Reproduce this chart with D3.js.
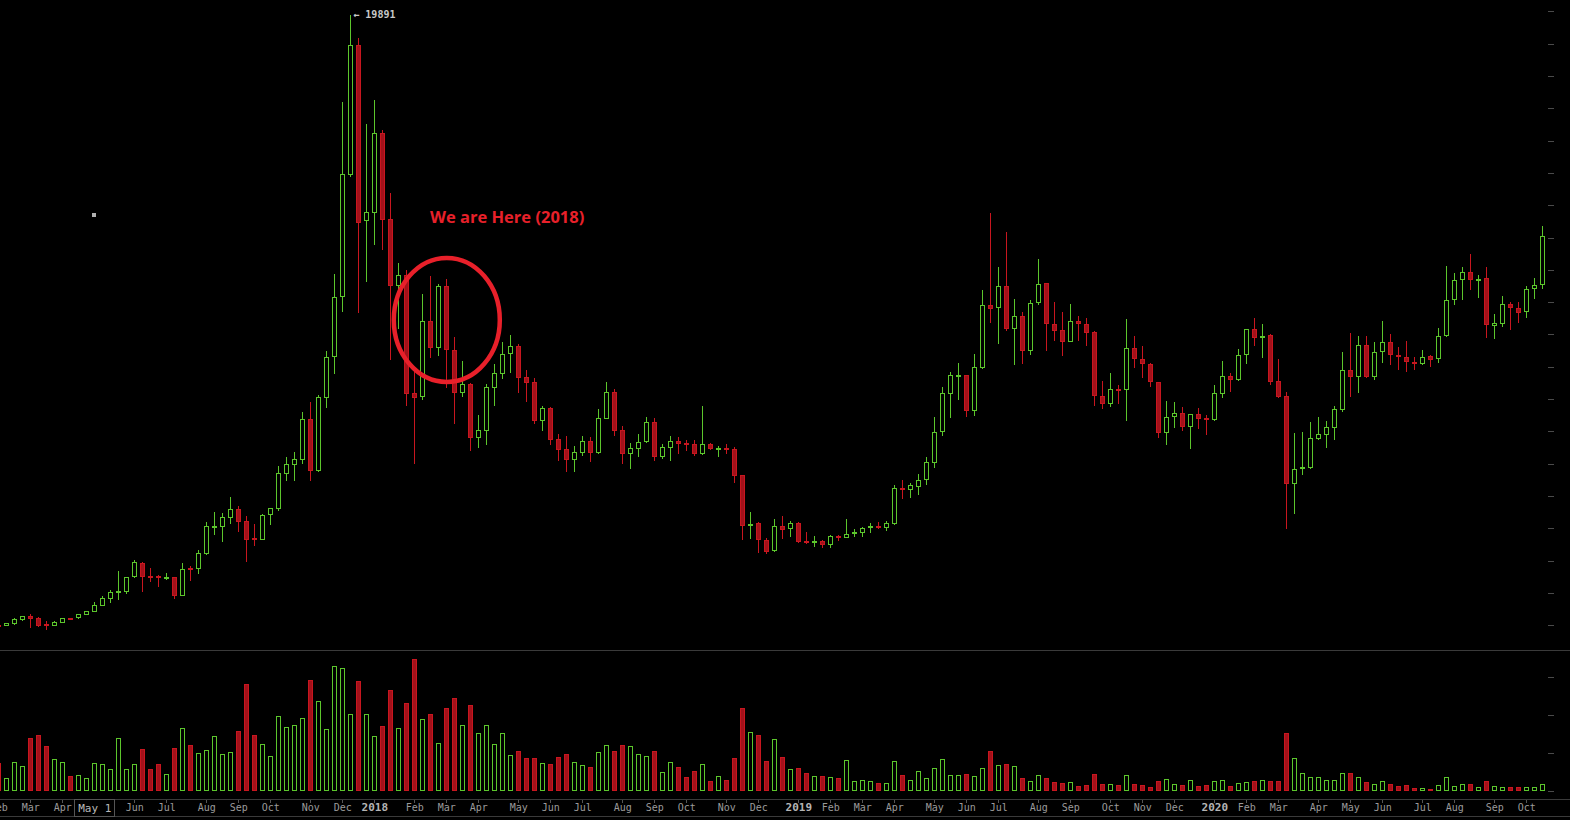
<!DOCTYPE html>
<html>
<head>
<meta charset="utf-8">
<script src="https://cdn.jsdelivr.net/npm/d3@7"></script>
<style>
  html, body { margin: 0; padding: 0; background: #000; }
  svg { display: block; }
</style>
</head>
<body>
<svg id="chart" width="1570" height="820"></svg>
<script>
// ---- Weekly candles, BTC, week of 6 Feb 2017 to week of 19 Oct 2020 ----
const firstWeek = Date.UTC(2017, 1, 6);
const lastWeekEnd = Date.UTC(2020, 9, 20);

const open = [
1015,1009,1080,1204,1288,1226,1040,1000,1111,1220,1248,1359,1452,1637,1854,2040,2071,2516,2918,2520,
2535,2490,2485,1947,2770,2764,3246,4060,4082,4360,4589,4218,3690,3679,4434,4639,5722,5999,6155,7374,
5814,8073,9323,11179,14954,18945,13531,13778,16222,13561,11538,11829,8178,8085,10406,9601,11498,9518,8228,8466,
6835,7043,8382,8815,9416,9651,8673,8518,7361,7714,6755,6445,6155,6371,6693,6362,7423,8209,7033,6340,
6495,6712,7281,6248,6526,6690,6640,6609,6340,6609,6480,6490,6445,5641,4120,4156,3630,3320,4063,4001,
4156,3610,3590,3599,3525,3770,3741,3860,3896,4050,4075,4051,4175,5240,5208,5319,5517,6062,7002,8197,
8720,8735,7652,9001,10901,10839,11489,10208,10561,9527,10994,11581,10313,10127,9806,10415,10322,10065,8095,7887,
8310,8302,9570,9230,9075,8518,6990,7466,7559,7176,7528,7420,7392,8197,8713,8630,9385,10158,9930,9973,
8549,8085,5412,5860,5907,6804,6928,7145,7702,8899,8723,9663,8723,9478,9766,9360,9292,9140,9106,9332,
9261,9973,11087,11705,11922,11700,11736,10300,10344,10932,10808,10715,11427,11551];
const high = [
1025,1080,1226,1285,1359,1250,1133,1133,1235,1240,1352,1440,1721,1906,2083,2680,2490,3011,2958,2773,
2556,2618,2490,2928,2835,3320,4187,4505,4465,4970,4682,4382,4134,4434,4630,5929,6198,6362,7600,7918,
8116,9487,11869,17191,19891,19171,16501,17253,16325,14375,12200,11993,8890,11250,11807,11560,11714,9911,9177,8500,
7507,8466,9085,9766,9973,9700,8899,8652,7785,7750,6919,6857,6538,6857,6817,7683,8518,8311,7166,6631,
6919,7445,7414,6609,6857,6817,6733,6733,7785,6640,6548,6609,6517,5660,4496,4196,3692,4289,4382,4219,
4209,3887,3763,3640,3794,3804,4289,3980,4051,4166,4187,4228,5332,5496,5403,5681,6207,7445,8364,8837,
9116,8760,9394,11374,13757,12086,13169,11096,10684,11056,12324,11600,10994,10693,10941,10579,10508,10100,8559,8806,
8435,10477,9951,9632,9106,8530,7940,7900,7754,7540,7723,7507,8435,9177,8806,9549,10180,10508,10322,10004,
9239,8218,6950,6981,7290,7445,7321,7785,9447,10044,9951,9951,9766,10415,10013,9611,9796,9292,9518,9373,
10198,12117,11891,12086,12488,11829,12086,10632,11189,11003,11003,11498,11746,13354];
const low = [
995,1000,1050,1173,957,985,886,995,1105,1185,1230,1340,1445,1630,1721,1823,2009,2510,2071,2380,
2216,2442,1854,1940,2402,2627,3215,3834,3618,4174,3927,2999,3484,3670,4143,4577,5500,5496,6012,5500,
5780,7763,8815,10734,14900,10703,11662,12807,12652,9249,10190,7816,6012,8000,9311,9363,8364,7268,8104,6424,
6526,6609,7816,8661,8846,8228,7940,7250,7043,6609,6114,5774,5774,6269,6083,6331,7400,6888,6031,5876,
6238,6671,6114,6186,6114,6340,6423,6257,6309,6445,6248,6340,5434,3670,3710,3277,3228,3300,3701,3772,
3578,3537,3454,3423,3423,3640,3730,3772,3763,3896,4001,3949,4134,4948,4979,5072,5381,5907,6888,7454,
8011,7485,7516,8970,10393,9744,10146,9094,9125,9403,10950,9527,9818,9363,9790,9827,9673,7816,7733,7795,
7878,7361,9001,8692,8413,6835,6619,7145,7043,6495,7114,6928,7361,8073,8259,8592,9125,9673,9301,8475,
8073,4020,4475,5681,5880,6764,6526,6764,7631,8104,8228,8692,8630,9156,9094,8939,8877,8939,9090,9032,
9156,9950,10950,11096,11414,11167,9929,9898,10270,10168,10393,10548,11136,11445];
const close = [
1005,1071,1186,1278,1235,1019,1005,1102,1217,1210,1350,1433,1619,1835,2021,2060,2485,2949,2516,2495,
2515,2500,1947,2733,2755,3228,4063,4075,4342,4589,4236,3679,3660,4403,4620,5712,5991,6136,7374,5814,
8054,9292,11148,14954,18945,13488,13778,16222,13580,11538,11829,8197,8073,10406,9601,11498,9558,8228,8466,6835,
7043,8364,8797,9394,9651,8692,8537,7361,7714,6773,6464,6155,6353,6693,6371,7405,8209,7052,6340,6476,
6681,7281,6248,6507,6693,6650,6620,6340,6609,6495,6500,6465,5659,4113,4150,3661,3308,4063,3989,4156,
3618,3590,3610,3525,3763,3755,3825,3890,4010,4075,4055,4165,5239,5215,5332,5496,6053,6971,8178,8735,
8750,7652,8982,10901,10827,11489,10208,10561,9527,10963,11551,10362,10146,9806,10406,10344,10084,8116,7887,8302,
8290,9570,9261,9106,8549,6990,7436,7559,7176,7528,7423,7390,8178,8704,8630,9354,10158,9929,9960,8568,
8104,5412,5827,5890,6786,6910,7126,7683,8890,8723,9663,8723,9456,9766,9385,9320,9168,9110,9311,9249,
9942,11056,11674,11922,11705,11730,10313,10340,10932,10839,10703,11396,11520,13036];
// weekly volume (relative units)
const volume = [
73,34,76,65,139,147,118,83,76,39,41,33,73,70,57,139,57,70,110,57,
70,44,112,165,120,99,107,144,97,102,157,281,147,123,91,197,168,173,191,291,
236,162,328,323,202,289,202,144,170,265,165,231,347,189,202,126,218,244,173,226,
152,173,123,152,94,104,86,86,73,70,89,97,76,68,62,102,120,104,120,118,
97,91,104,49,76,62,36,52,70,26,39,28,86,218,154,147,78,136,89,57,
60,47,39,39,36,33,81,26,28,26,20,20,78,41,28,52,33,60,83,41,
41,44,39,60,104,68,70,65,33,26,41,33,23,20,23,12,15,44,18,18,
15,41,18,15,10,26,31,18,15,28,12,15,26,28,12,20,23,26,28,26,
26,152,86,47,36,36,28,28,47,47,36,23,18,26,18,12,15,7,7,4,
15,36,12,18,18,10,26,12,10,10,10,10,10,18];

const priceTicks = d3.range(1000, 20001, 1000);
const volumeTicks = [0, 100, 200, 300];
const peakLabel = "\u2190 19891";
const annotation = "We are Here (2018)";
const tickMonthNames = ["Jan","Feb","Mar","Apr","May","Jun","Jul","Aug","Sep","Oct","Nov","Dec"];
const crosshairLabel = "May 1";
const crosshairDate = Date.UTC(2017, 4, 1);
const circleWeek = Date.UTC(2018, 2, 5);
const circlePrice = 10450;

// ---- build ----
const weeks = d3.utcMonday.range(firstWeek, lastWeekEnd);
const data = weeks.map((d, i) => ({
  date: d, o: open[i], h: high[i], l: low[i], c: close[i], v: volume[i]
}));

const GREEN = "#5cc62c", RED = "#c8161f", RED_FILL = "#a3111a";
const svg = d3.select("#chart");
svg.append("rect").attr("width", 1570).attr("height", 820).attr("fill", "#000");

const x = d3.scaleUtc()
  .domain([Date.UTC(2017, 1, 13), Date.UTC(2020, 9, 19)])
  .range([6.3, 1542.3]);
const y = d3.scaleLinear().domain([1000, 20000]).range([625.3, 11.3]);
const yv = d3.scaleLinear().domain([0, 300]).range([791, 677]);

const px = v => Math.round(v);
const up = d => d.c >= d.o;

// price pane
const gP = svg.append("g").attr("shape-rendering", "crispEdges");
const candles = gP.selectAll("g.c").data(data).join("g").attr("class", "c");
candles.append("line")
  .attr("x1", d => px(x(d.date)) + 0.5).attr("x2", d => px(x(d.date)) + 0.5)
  .attr("y1", d => px(y(d.h))).attr("y2", d => px(y(d.l)) + 1)
  .attr("stroke", d => up(d) ? GREEN : RED).attr("stroke-width", 1);
candles.append("rect")
  .attr("x", d => px(x(d.date)) - 1.5)
  .attr("width", 4)
  .attr("y", d => px(y(Math.max(d.o, d.c))) + 0.5)
  .attr("height", d => Math.max(1, px(y(Math.min(d.o, d.c))) - px(y(Math.max(d.o, d.c)))))
  .attr("fill", d => up(d) ? "#000" : RED_FILL)
  .attr("stroke", d => up(d) ? GREEN : RED)
  .attr("stroke-width", 1);

// volume pane
const gV = svg.append("g").attr("shape-rendering", "crispEdges");
gV.selectAll("rect").data(data).join("rect")
  .attr("x", d => px(x(d.date)) - 1.5)
  .attr("width", 4)
  .attr("y", d => px(yv(d.v)) + 0.5)
  .attr("height", d => Math.max(1, px(yv(0)) - px(yv(d.v)) - 1))
  .attr("fill", d => up(d) ? "#000" : RED_FILL)
  .attr("stroke", d => up(d) ? GREEN : RED)
  .attr("stroke-width", 1);

// frame lines
const gF = svg.append("g").attr("shape-rendering", "crispEdges");
gF.append("line").attr("x1", 0).attr("x2", 1570).attr("y1", 650.5).attr("y2", 650.5).attr("stroke", "#3a3a3a");
gF.append("line").attr("x1", 0).attr("x2", 1570).attr("y1", 799.5).attr("y2", 799.5).attr("stroke", "#3a3a3a");
gF.append("line").attr("x1", 0).attr("x2", 1570).attr("y1", 816.5).attr("y2", 816.5).attr("stroke", "#3a3a3a");

// right-side tick marks
gF.selectAll("line.pt").data(priceTicks).join("line").attr("class", "pt")
  .attr("x1", 1548).attr("x2", 1554)
  .attr("y1", d => px(y(d)) + 0.5).attr("y2", d => px(y(d)) + 0.5)
  .attr("stroke", "#4a4a4a");
gF.selectAll("line.vt").data(volumeTicks).join("line").attr("class", "vt")
  .attr("x1", 1548).attr("x2", 1554)
  .attr("y1", d => px(yv(d)) + 0.5).attr("y2", d => px(yv(d)) + 0.5)
  .attr("stroke", "#4a4a4a");

// time axis: first weekly candle of each month (May 2017 is shown by the crosshair box)
const months = d3.utcMonth.range(Date.UTC(2017, 1, 1), Date.UTC(2020, 9, 2));
const ticks = months.map(m => ({
  date: d3.utcMonday.ceil(m),
  label: m.getUTCMonth() === 0 ? String(m.getUTCFullYear()) : tickMonthNames[m.getUTCMonth()],
  year: m.getUTCMonth() === 0
})).filter(t => +t.date !== crosshairDate);
const gX = svg.append("g");
gX.selectAll("line").data(ticks).join("line")
  .attr("shape-rendering", "crispEdges")
  .attr("x1", d => px(x(d.date)) + 0.5).attr("x2", d => px(x(d.date)) + 0.5)
  .attr("y1", 800).attr("y2", 803).attr("stroke", "#555");
gX.selectAll("text").data(ticks).join("text")
  .attr("x", d => x(d.date) + 0.5)
  .attr("y", 811)
  .attr("text-anchor", "middle")
  .attr("font-family", "'DejaVu Sans Mono', monospace")
  .attr("font-size", d => d.year ? 11 : 10)
  .attr("font-weight", d => d.year ? "bold" : "normal")
  .attr("fill", d => d.year ? "#b4b4b4" : "#9a9a9a")
  .text(d => d.label);

// crosshair date box
const chX = x(crosshairDate);
svg.append("rect").attr("shape-rendering", "crispEdges")
  .attr("x", px(chX) - 19.5).attr("y", 799.5).attr("width", 40).attr("height", 17)
  .attr("fill", "#000").attr("stroke", "#555");
svg.append("text").attr("x", chX + 0.5).attr("y", 811.5).attr("text-anchor", "middle")
  .attr("font-family", "'DejaVu Sans Mono', monospace").attr("font-size", 11)
  .attr("fill", "#b8b8b8").text(crosshairLabel);

// peak label
const peak = data.reduce((a, b) => b.h > a.h ? b : a);
svg.append("text")
  .attr("x", x(peak.date) + 3).attr("y", y(peak.h) + 3)
  .attr("font-family", "'DejaVu Sans Mono', monospace").attr("font-size", 10)
  .attr("font-weight", "bold").attr("fill", "#c8c8c8")
  .text(peakLabel);

// small marker square
svg.append("rect").attr("x", 92).attr("y", 213).attr("width", 4).attr("height", 4).attr("fill", "#b0b0b0");

// annotation
svg.append("ellipse")
  .attr("cx", x(circleWeek) + 0.5).attr("cy", y(circlePrice))
  .attr("rx", 53).attr("ry", 62)
  .attr("fill", "none").attr("stroke", "#e8202a").attr("stroke-width", 4.5);
svg.append("text")
  .attr("x", 430).attr("y", 223)
  .attr("font-family", "'Open Sans', sans-serif").attr("font-size", 16.5)
  .attr("font-weight", "bold").attr("fill", "#e8202a")
  .text(annotation);
</script>
</body>
</html>
